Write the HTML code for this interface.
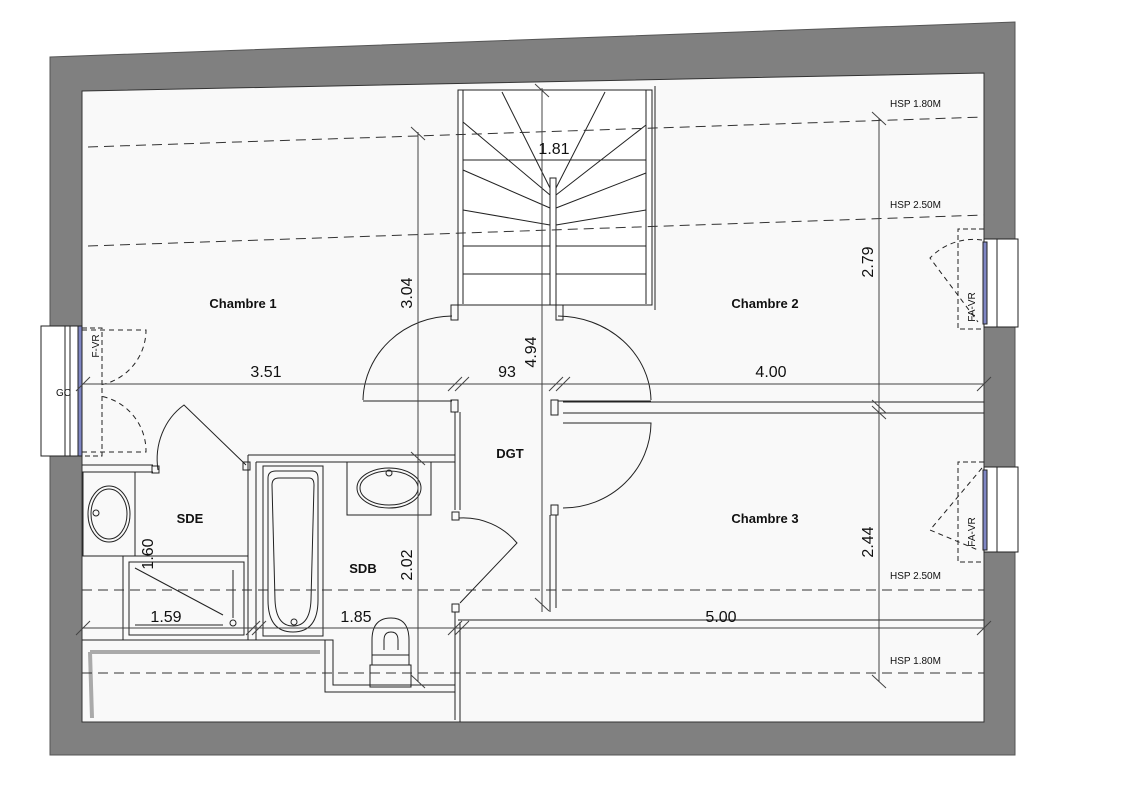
<!DOCTYPE html>
<html><head><meta charset="utf-8"><style>
html,body{margin:0;padding:0;background:#fff;}
svg{display:block;}
text{font-family:"Liberation Sans",sans-serif;fill:#111;}
.b{font-weight:bold;font-size:13px;}
.d{font-size:16px;}
.h{font-size:10px;}
</style></head><body>
<svg width="1137" height="800" viewBox="0 0 1137 800" xmlns="http://www.w3.org/2000/svg">
<!-- walls -->
<polygon points="50,57 1015,22 1015,755 50,755" fill="#808080" stroke="#555" stroke-width="1"/>
<polygon points="82,91 984,73 984,722 82,722" fill="#f9f9f9" stroke="#333" stroke-width="1"/>
<g fill="none" stroke="#222" stroke-width="1">
<!-- left window -->
<rect x="41" y="326" width="41" height="130" fill="#fff"/>
<line x1="65" y1="326" x2="65" y2="456"/><line x1="70" y1="326" x2="70" y2="456"/>
<rect x="78" y="326" width="4" height="130" fill="#7f86c4"/>
<path d="M82,328 H102 V456 H82" stroke-dasharray="5,3"/>
<path d="M82,330 H146 A56,56 0 0 1 100,385" stroke-dasharray="5,4"/>
<path d="M82,452 H146 A56,56 0 0 0 100,396" stroke-dasharray="5,4"/>
<!-- right windows -->
<rect x="984" y="239" width="34" height="88" fill="#fff"/>
<line x1="997" y1="239" x2="997" y2="327"/>
<rect x="983" y="242" width="4" height="82" fill="#7f86c4"/>
<path d="M984,229 H958 V329 H984" stroke-dasharray="5,3"/>
<path d="M982,240 A60,60 0 0 0 930,258 L978,322" stroke-dasharray="5,4"/>
<rect x="984" y="467" width="34" height="85" fill="#fff"/>
<line x1="997" y1="467" x2="997" y2="552"/>
<rect x="983" y="470" width="4" height="80" fill="#7f86c4"/>
<path d="M984,462 H958 V562 H984" stroke-dasharray="5,3"/>
<path d="M982,468 L930,530 L978,550" stroke-dasharray="5,4"/>
<!-- stair -->
<rect x="458" y="90" width="194" height="215" fill="#fff"/>
<line x1="463" y1="90" x2="463" y2="304"/><line x1="646" y1="90" x2="646" y2="304"/>
<line x1="655" y1="86" x2="655" y2="310"/>
<rect x="550" y="178" width="6" height="127"/>
<line x1="463" y1="160" x2="646" y2="160"/>
<path d="M502,92 L550,188 M463,122 L550,195 M463,170 L550,208 M463,210 L550,225 M463,246 H550 M463,274 H550"/>
<path d="M605,92 L556,188 M646,125 L556,195 M646,173 L556,208 M646,210 L556,225 M556,246 H646 M556,274 H646"/>
<!-- door jambs -->
<rect x="451" y="305" width="7" height="15"/><rect x="556" y="305" width="7" height="15"/>
<path d="M452,316 A90,86 0 0 0 363,400"/><line x1="363" y1="401" x2="452" y2="401"/>
<path d="M558,316 A94,86 0 0 1 651,400"/><line x1="558" y1="401" x2="651" y2="401"/>
<!-- walls chambre 2/3 -->
<line x1="563" y1="402" x2="984" y2="402"/><line x1="563" y1="413" x2="984" y2="413"/>
<rect x="551" y="400" width="7" height="15"/><rect x="451" y="400" width="7" height="12"/>
<path d="M563,423 H651 A88,86 0 0 1 563,508"/>
<rect x="551" y="505" width="7" height="10"/>
<line x1="550" y1="515" x2="550" y2="612"/><line x1="556" y1="515" x2="556" y2="608"/>
<line x1="458" y1="620" x2="984" y2="620"/>
<!-- DGT left wall -->
<line x1="455" y1="412" x2="455" y2="510"/><line x1="460" y1="412" x2="460" y2="510"/>
<rect x="452" y="512" width="7" height="8"/>
<path d="M459,518 A70,70 0 0 1 517,543 L460,603"/>
<rect x="452" y="604" width="7" height="8"/>
<path d="M455,612 V720 M460,622 V722"/>
<!-- bathroom area -->
<path d="M248,455 H455 M256,462 H455 M248,455 V640 M256,462 V640 M248,640 H325 V692 H455 M256,640 H333 V685 H455"/>
<path d="M82,465 H153 M82,472 H153"/>
<rect x="152" y="466" width="7" height="7"/><rect x="243" y="462" width="7" height="8"/>
<path d="M158,470 A60,65 0 0 1 184,405 L246,465"/>
<!-- sink SDE -->
<rect x="83" y="472" width="52" height="84"/>
<ellipse cx="109" cy="514" rx="21" ry="28"/><ellipse cx="109" cy="514" rx="18" ry="25"/>
<circle cx="96" cy="513" r="3"/>
<!-- shower -->
<path d="M123,556 H248 M123,556 V640 M82,640 H248"/>
<rect x="129" y="562" width="115" height="73"/>
<line x1="135" y1="568" x2="223" y2="615"/><line x1="135" y1="625" x2="223" y2="625"/>
<line x1="233" y1="570" x2="233" y2="618"/><circle cx="233" cy="623" r="3"/>
<!-- bathtub -->
<rect x="263" y="466" width="60" height="170"/>
<path d="M268,478 Q268,471 276,471 H312 Q318,471 318,478 V600 Q318,632 293,632 Q268,632 268,600 Z"/>
<path d="M272,485 Q272,478 279,478 H309 Q314,478 314,485 L311,600 Q310,626 293,626 Q276,626 275,600 Z"/>
<circle cx="294" cy="622" r="3"/>
<!-- sink SDB -->
<rect x="347" y="462" width="84" height="53"/>
<ellipse cx="389" cy="488" rx="32" ry="20"/><ellipse cx="389" cy="488" rx="29" ry="17"/>
<circle cx="389" cy="473" r="3"/>
<!-- WC -->
<path d="M372,640 Q372,618 391,618 Q409,618 409,640 V655 H372 Z"/>
<path d="M384,650 V640 Q384,632 391,632 Q398,632 398,640 V650"/>
<rect x="372" y="655" width="37" height="10"/><rect x="370" y="665" width="41" height="22"/>
<!-- bottom-left triangle shading -->
<path d="M90,652 H320" stroke="#aaa" stroke-width="4"/><path d="M90,652 L92,718" stroke="#aaa" stroke-width="4"/>
</g>
<!-- dashed lines -->
<g stroke="#333" stroke-width="1" stroke-dasharray="10,6" fill="none">
<line x1="88" y1="147" x2="984" y2="117"/>
<line x1="88" y1="246" x2="984" y2="215"/>
<line x1="82" y1="590" x2="984" y2="590"/>
<line x1="82" y1="673" x2="984" y2="673"/>
</g>
<!-- dimension lines -->
<g stroke="#444" stroke-width="1" fill="none">
<line x1="82" y1="384" x2="984" y2="384"/>
<line x1="82" y1="628" x2="984" y2="628"/>
<line x1="418" y1="132" x2="418" y2="682"/>
<line x1="542" y1="88" x2="542" y2="612"/>
<line x1="879" y1="118" x2="879" y2="682"/>
<path d="M76,391 L90,377 M448,391 L462,377 M455,391 L469,377 M549,391 L563,377 M556,391 L570,377 M977,391 L991,377"/>
<path d="M76,635 L90,621 M246,635 L260,621 M252,635 L266,621 M448,635 L462,621 M455,635 L469,621 M977,635 L991,621"/>
<path d="M411,127 L425,140 M411,452 L425,465 M411,675 L425,688 M535,84 L549,97 M535,598 L549,611"/>
<path d="M872,112 L886,125 M872,400 L886,413 M872,406 L886,419 M872,675 L886,688"/>
</g>
<!-- labels -->
<text class="b" x="243" y="308" text-anchor="middle">Chambre 1</text>
<text class="b" x="765" y="308" text-anchor="middle">Chambre 2</text>
<text class="b" x="765" y="523" text-anchor="middle">Chambre 3</text>
<text class="b" x="510" y="458" text-anchor="middle">DGT</text>
<text class="b" x="190" y="523" text-anchor="middle">SDE</text>
<text class="b" x="363" y="573" text-anchor="middle">SDB</text>
<text class="d" x="266" y="377" text-anchor="middle">3.51</text>
<text class="d" x="507" y="377" text-anchor="middle">93</text>
<text class="d" x="771" y="377" text-anchor="middle">4.00</text>
<text class="d" x="554" y="154" text-anchor="middle">1.81</text>
<text class="d" x="166" y="622" text-anchor="middle">1.59</text>
<text class="d" x="356" y="622" text-anchor="middle">1.85</text>
<text class="d" x="721" y="622" text-anchor="middle">5.00</text>
<text class="d" transform="translate(412,293) rotate(-90)" text-anchor="middle">3.04</text>
<text class="d" transform="translate(536,352) rotate(-90)" text-anchor="middle">4.94</text>
<text class="d" transform="translate(412,565) rotate(-90)" text-anchor="middle">2.02</text>
<text class="d" transform="translate(153,554) rotate(-90)" text-anchor="middle">1.60</text>
<text class="d" transform="translate(873,262) rotate(-90)" text-anchor="middle">2.79</text>
<text class="d" transform="translate(873,542) rotate(-90)" text-anchor="middle">2.44</text>
<text class="h" x="890" y="107">HSP 1.80M</text>
<text class="h" x="890" y="208">HSP 2.50M</text>
<text class="h" x="890" y="579">HSP 2.50M</text>
<text class="h" x="890" y="664">HSP 1.80M</text>
<text class="h" transform="translate(99,346) rotate(-90)" text-anchor="middle">F-VR</text>
<text class="h" x="56" y="396">GC</text>
<text class="h" transform="translate(975,307) rotate(-90)" text-anchor="middle">FA-VR</text>
<text class="h" transform="translate(975,532) rotate(-90)" text-anchor="middle">FA-VR</text>
</svg>
</body></html>
